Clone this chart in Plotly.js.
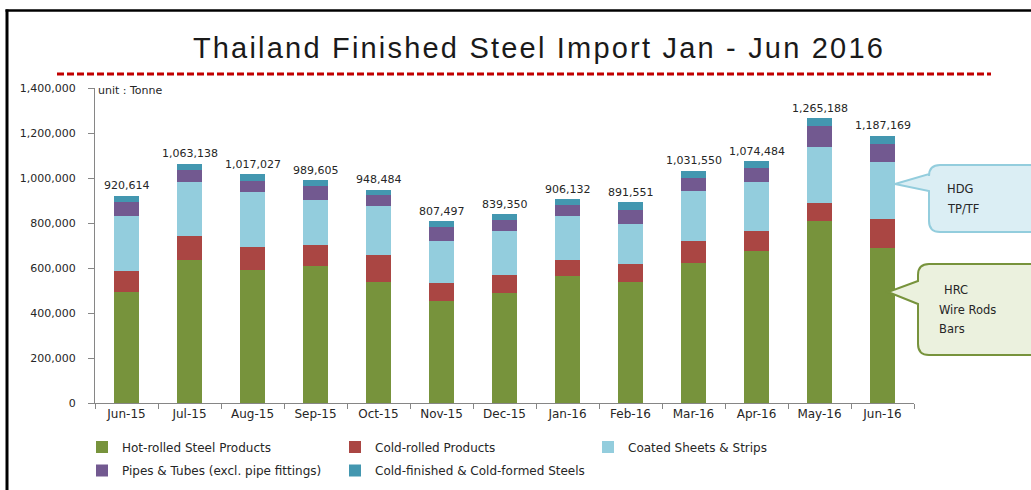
<!DOCTYPE html>
<html>
<head>
<meta charset="utf-8">
<script src="https://cdn.plot.ly/plotly-3.0.1.min.js"></script>
<style>
  html, body { margin: 0; padding: 0; background: #ffffff; }
  #chart { width: 1031px; height: 490px; }
  #chart .gtitle { letter-spacing: 2.2px; }
</style>
</head>
<body>
<div id="chart"></div>
<script>
// ---- Data (tonnes) ----
const months = ['Jun-15','Jul-15','Aug-15','Sep-15','Oct-15','Nov-15','Dec-15','Jan-16','Feb-16','Mar-16','Apr-16','May-16','Jun-16'];
const hotRolled    = [493000, 634000, 591000, 611000, 538000, 455000, 489000, 564000, 540000, 621000, 676000, 809000, 691000];
const coldRolled   = [94000, 110000, 102000, 90000, 119000, 80000, 82000, 71000, 78000, 99000, 89000, 82000, 127000];
const coatedSheets = [244000, 238000, 244000, 203000, 218000, 185000, 194000, 197000, 177000, 221000, 218000, 247000, 253000];
const pipesTubes   = [64000, 53000, 51000, 60000, 49000, 61000, 49000, 47000, 65000, 59000, 62000, 93000, 80000];
const coldFinished = [25614, 28138, 29027, 25605, 24484, 26497, 25350, 27132, 31551, 31550, 29484, 34188, 36169];
const totals       = [920614, 1063138, 1017027, 989605, 948484, 807497, 839350, 906132, 891551, 1031550, 1074484, 1265188, 1187169];
const seriesNames  = ['Hot-rolled Steel Products','Cold-rolled Products','Coated Sheets & Strips','Pipes & Tubes (excl. pipe fittings)','Cold-finished & Cold-formed Steels'];
const yTickVals    = [0, 200000, 400000, 600000, 800000, 1000000, 1200000, 1400000];

// ---- Styles ----
const colors = ['#77933C', '#AA4643', '#93CDDD', '#725990', '#4397B0'];
const legendRef = ['legend', 'legend', 'legend', 'legend2', 'legend2'];
const W = 1031, H = 490;
const M = {l: 95, r: 117, t: 88, b: 87, autoexpand: false};
const PW = W - M.l - M.r, PH = H - M.t - M.b;
const xp = px => (px - M.l) / PW;
const yp = py => (H - M.b - py) / PH;

const seriesData = [hotRolled, coldRolled, coatedSheets, pipesTubes, coldFinished];
const traces = seriesData.map((vals, i) => ({
  type: 'bar',
  name: seriesNames[i],
  x: months,
  y: vals,
  legend: legendRef[i],
  marker: {color: colors[i], line: {width: 0}},
  hoverinfo: 'x+y+name'
}));

const fmt = v => v.toLocaleString('en-US');

const annotations = totals.map((t, i) => ({
  x: months[i], y: t, xref: 'x', yref: 'y',
  text: fmt(t), showarrow: false,
  yanchor: 'middle', yshift: 10,
  font: {family: 'DejaVu Sans', size: 11, color: '#262626'}
}));

annotations.push({
  xref: 'paper', yref: 'paper', x: xp(96), y: yp(91), xanchor: 'left', yanchor: 'middle',
  text: 'unit : Tonne', showarrow: false,
  font: {family: 'DejaVu Sans', size: 11, color: '#262626'}
});

// Callout texts
const calloutFont = {family: 'DejaVu Sans', size: 11.5, color: '#262626'};
[['HDG', 945, 189], ['TP/TF', 945, 209], ['HRC', 942, 290], ['Wire Rods', 937, 310], ['Bars', 937, 329]].forEach(([t, x, y]) => {
  annotations.push({xref: 'paper', yref: 'paper', x: xp(x), y: yp(y), xanchor: 'left', yanchor: 'middle',
    text: t, showarrow: false, font: calloutFont});
});

function pathFromPx(points) {
  return points.map((p, i) => {
    if (p[0] === 'Q') return 'Q' + xp(p[1]) + ',' + yp(p[2]) + ' ' + xp(p[3]) + ',' + yp(p[4]);
    return (i === 0 ? 'M' : 'L') + xp(p[0]) + ',' + yp(p[1]);
  }).join(' ') + ' Z';
}
function calloutPath(left, top, right, bottom, r, tipX, tipY, baseTop, baseBot) {
  return pathFromPx([
    [left + r, top], [right, top], [right, bottom], [left + r, bottom],
    ['Q', left, bottom, left, bottom - r],
    [left, baseBot], [tipX, tipY], [left, baseTop],
    [left, top + r],
    ['Q', left, top, left + r, top]
  ]);
}

const shapes = [
  // frame
  {type: 'line', xref: 'paper', yref: 'paper', x0: xp(7), x1: xp(7), y0: yp(9.5), y1: yp(495), line: {color: '#000', width: 3}},
  {type: 'line', xref: 'paper', yref: 'paper', x0: xp(5.5), x1: xp(1040), y0: yp(10.5), y1: yp(10.5), line: {color: '#000', width: 2.5}},
  // red dashed rule under title
  {type: 'line', xref: 'paper', yref: 'paper', x0: xp(57), x1: xp(991), y0: yp(74), y1: yp(74), line: {color: '#C00000', width: 3, dash: '7px,3px'}},
  // HDG callout
  {type: 'path', xref: 'paper', yref: 'paper', path: calloutPath(929, 165, 1045, 232, 11, 895, 184, 174, 191),
   fillcolor: '#DBEEF4', line: {color: '#93CDDD', width: 2}},
  // HRC callout
  {type: 'path', xref: 'paper', yref: 'paper', path: calloutPath(918, 264, 1045, 355, 11, 888, 292, 281, 304),
   fillcolor: '#EBF1DE', line: {color: '#77933C', width: 2}}
];

const legendBase = {
  orientation: 'h', traceorder: 'normal',
  x: xp(82), xanchor: 'left', yanchor: 'top',
  entrywidth: 208, entrywidthmode: 'pixels',
  font: {family: 'DejaVu Sans', size: 12, color: '#262626'},
  bgcolor: 'rgba(0,0,0,0)'
};

const layout = {
  width: W, height: H,
  margin: M,
  paper_bgcolor: '#ffffff', plot_bgcolor: '#ffffff',
  barmode: 'stack', bargap: 0.6,
  title: {
    text: 'Thailand Finished Steel Import Jan - Jun 2016',
    font: {family: 'Liberation Sans, Arial, sans-serif', size: 29, color: '#1a1a1a'},
    x: xp(539), xanchor: 'center', xref: 'paper',
    y: 1 - 48 / H, yanchor: 'middle', yref: 'container'
  },
  xaxis: {
    type: 'category', showgrid: false, zeroline: false,
    showline: true, linecolor: '#868686', linewidth: 1,
    ticks: 'outside', tickson: 'boundaries', ticklen: 5, tickcolor: '#868686',
    tickfont: {family: 'DejaVu Sans', size: 12, color: '#262626'},
    fixedrange: true
  },
  yaxis: {
    range: [0, 1400000], showgrid: false, zeroline: false,
    showline: true, linecolor: '#868686', linewidth: 1,
    ticks: 'outside', ticklen: 6, tickcolor: '#868686',
    tickvals: yTickVals, ticktext: yTickVals.map(fmt),
    ticklabelstandoff: 10,
    tickfont: {family: 'DejaVu Sans', size: 11, color: '#262626'},
    fixedrange: true
  },
  showlegend: true,
  legend: Object.assign({}, legendBase, {y: yp(432.5)}),
  legend2: Object.assign({}, legendBase, {y: yp(456)}),
  annotations: annotations,
  shapes: shapes
};

Plotly.newPlot('chart', traces, layout, {displayModeBar: false});
</script>
</body>
</html>
